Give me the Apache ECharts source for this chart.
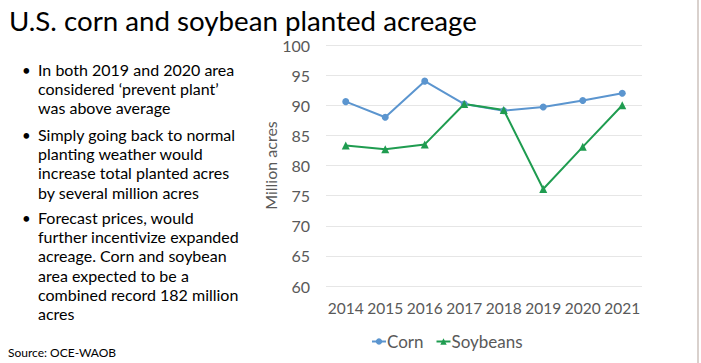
<!DOCTYPE html>
<html><head><meta charset="utf-8">
<script src="https://cdn.jsdelivr.net/npm/echarts@6/dist/echarts.min.js"></script>
<style>html,body{margin:0;padding:0;background:#fff}#c{width:701px;height:363px}</style>
</head><body><div id="c"></div>
<script>
const years = ['2014','2015','2016','2017','2018','2019','2020','2021'];
const corn = [90.6, 88.0, 94.0, 90.2, 89.1, 89.7, 90.8, 92.0];
const soybeans = [83.3, 82.7, 83.5, 90.2, 89.2, 76.1, 83.1, 90.0];
const bullets = [
  ['In both 2019 and 2020 area', 'considered \u2018prevent plant\u2019', 'was above average'],
  ['Simply going back to normal', 'planting weather would', 'increase total planted acres', 'by several million acres'],
  ['Forecast prices, would', 'further incentivize expanded', 'acreage. Corn and soybean', 'area expected to be a', 'combined record 182 million', 'acres']
];
const FONT = 'Lato, "Open Sans", sans-serif';
const chart = echarts.init(document.getElementById('c'), null, {renderer: 'svg'});
const graphics = [];
const bulletTops = [71, 136, 219];
bullets.forEach((lines, i) => {
  graphics.push({type: 'text', left: 22, top: bulletTops[i] - 9, style: {text: '\u2022', font: '15px ' + FONT, fill: '#000'}});
  lines.forEach((ln, j) => {
    graphics.push({type: 'text', left: 38, top: bulletTops[i] - 9.5 + j * 19.2,
      style: {text: ln, font: '16px ' + FONT, fill: '#000'}});
  });
});
graphics.push({type: 'text', left: 8, top: 346, style: {text: 'Source: OCE-WAOB', font: '12px ' + FONT, fill: '#000'}});
graphics.push({type: 'rect', shape: {x: 697, y: 0, width: 2, height: 363}, style: {fill: '#d9d1cd'}});
chart.setOption({
  animation: false,
  title: {text: 'U.S. corn and soybean planted acreage', left: 9, top: 3, padding: 0,
    textStyle: {fontFamily: FONT, fontSize: 27.7, lineHeight: 34, fontWeight: 'normal', color: '#000'}},
  graphic: graphics,
  legend: {data: ['Corn', 'Soybeans'], left: 366, top: 328, itemWidth: 14, itemHeight: 8, itemGap: 12,
    textStyle: {fontFamily: FONT, fontSize: 17, color: '#595959', padding: [0, 0, 0, -4]}},
  grid: {left: 326, right: 59, top: 45, bottom: 77},
  xAxis: {type: 'category', data: years, boundaryGap: true,
    axisLine: {show: false}, axisTick: {show: false},
    axisLabel: {fontFamily: FONT, fontSize: 15.5, color: '#595959', margin: 14, interval: 0}},
  yAxis: {type: 'value', min: 60, max: 100, interval: 5, name: 'Million acres', nameLocation: 'middle', nameGap: 48,
    nameTextStyle: {fontFamily: FONT, fontSize: 16, color: '#595959'},
    axisLabel: {fontFamily: FONT, fontSize: 16, color: '#595959', margin: 16},
    splitLine: {lineStyle: {color: '#e6e6e6', width: 1}}},
  series: [
    {name: 'Corn', type: 'line', data: corn, symbol: 'circle', symbolSize: 7,
      lineStyle: {color: '#5b95cf', width: 2}, itemStyle: {color: '#5b95cf'}},
    {name: 'Soybeans', type: 'line', data: soybeans, symbol: 'triangle', symbolSize: 8,
      lineStyle: {color: '#1f9c50', width: 2}, itemStyle: {color: '#1f9c50'}}
  ]
});
</script></body></html>
